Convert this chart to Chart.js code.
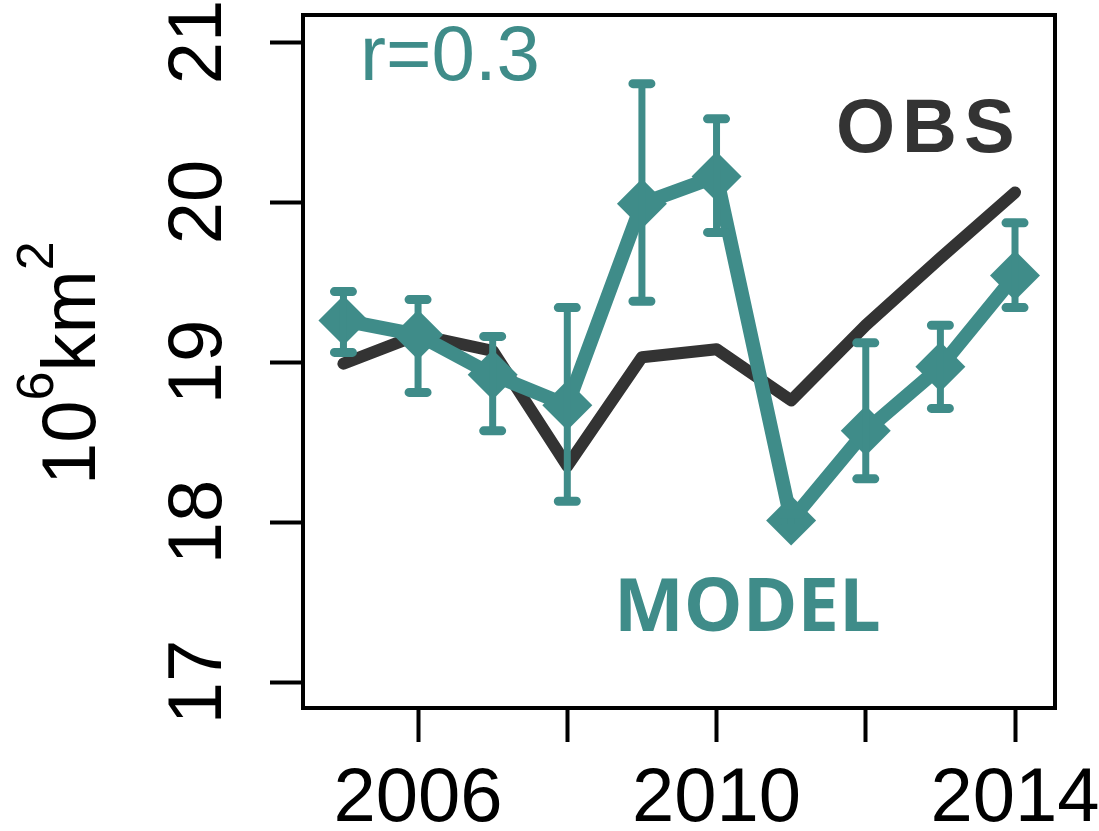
<!DOCTYPE html>
<html>
<head>
<meta charset="utf-8">
<style>
  html, body { margin: 0; padding: 0; background: #ffffff; }
  #wrap { width: 1099px; height: 831px; }
</style>
<script src="https://cdn.jsdelivr.net/npm/chart.js@4.4.1/dist/chart.umd.min.js"></script>
</head>
<body>
<div id="wrap"><canvas id="c" width="1099" height="831"></canvas></div>
<script>
// Yearly sea-ice extent (10^6 km^2): observations vs. model ensemble
const years = [2005, 2006, 2007, 2008, 2009, 2010, 2011, 2012, 2013, 2014];
const obsExtent = [18.99, 19.17, 19.07, 18.35, 19.03, 19.08, 18.76, 19.23, 19.65, 20.06];
const modelExtent = [19.26, 19.17, 18.92, 18.73, 19.99, 20.16, 18.01, 18.57, 18.97, 19.54];
const modelHigh = [19.44, 19.39, 19.16, 19.34, 20.74, 20.52, 18.05, 19.12, 19.23, 19.87];
const modelLow = [19.06, 18.81, 18.57, 18.13, 19.38, 19.81, 17.96, 18.27, 18.71, 19.34];
const xTicks = [2006, 2008, 2010, 2012, 2014];
const xLabelled = [2006, 2010, 2014];
const yTicks = [17, 18, 19, 20, 21];

const TEAL = '#3f8c89';
const DARK = '#333333';
const AXIS_FONT = '"Liberation Sans", Arial, sans-serif';

// Whiskers for the model spread, drawn through the chart's own scales
const errorBars = {
  id: 'errorBars',
  afterDatasetsDraw(chart) {
    const { ctx, scales: { x, y } } = chart;
    ctx.save();
    ctx.strokeStyle = TEAL;
    ctx.lineCap = 'round';
    years.forEach((yr, i) => {
      const px = x.getPixelForValue(yr);
      const top = y.getPixelForValue(modelHigh[i]);
      const bot = y.getPixelForValue(modelLow[i]);
      ctx.lineWidth = 7;
      ctx.beginPath();
      ctx.moveTo(px, top);
      ctx.lineTo(px, bot);
      ctx.stroke();
      ctx.lineWidth = 9;
      ctx.beginPath();
      ctx.moveTo(px - 9, top); ctx.lineTo(px + 9, top);
      ctx.moveTo(px - 9, bot); ctx.lineTo(px + 9, bot);
      ctx.stroke();
    });
    ctx.restore();
  }
};

// Frame, unit title and in-panel labels
const decorations = {
  id: 'decorations',
  afterDraw(chart) {
    const { ctx, chartArea: a } = chart;
    ctx.save();
    ctx.strokeStyle = '#000';
    ctx.lineWidth = 4;
    ctx.strokeRect(a.left, a.top, a.right - a.left, a.bottom - a.top);

    // y-axis unit: 10^6 km^2, rotated
    ctx.translate(95, 485);
    ctx.rotate(-Math.PI / 2);
    ctx.fillStyle = '#000';
    ctx.textBaseline = 'alphabetic';
    ctx.textAlign = 'left';
    let cx = 0;
    ctx.font = '76px ' + AXIS_FONT;
    ctx.fillText('10', cx, 0); cx += ctx.measureText('10').width;
    ctx.font = '52px ' + AXIS_FONT;
    ctx.fillText('6', cx, -42); cx += ctx.measureText('6').width;
    ctx.font = '76px ' + AXIS_FONT;
    ctx.fillText('km', cx, 0); cx += ctx.measureText('km').width;
    ctx.font = '52px ' + AXIS_FONT;
    ctx.fillText('2', cx, -42);
    ctx.restore();

    ctx.save();
    ctx.textBaseline = 'alphabetic';
    ctx.textAlign = 'left';
    ctx.fillStyle = TEAL;
    ctx.font = '78px ' + AXIS_FONT;
    ctx.fillText('r=0.3', 360, 80);

    ctx.fillStyle = DARK;
    ctx.font = 'bold 76px ' + AXIS_FONT;
    ctx.letterSpacing = '7px';
    ctx.fillText('OBS', 836, 152);
    ctx.letterSpacing = '0px';

    ctx.fillStyle = TEAL;
    ctx.font = 'bold 74px "Open Sans", ' + AXIS_FONT;
    ctx.fillText('MODEL', 614, 631);
    ctx.restore();
  }
};

// keep the label overhang from shrinking the plotting box
function noOverhang(scale) {
  scale.paddingLeft = 0;
  scale.paddingRight = 0;
  scale.paddingTop = 0;
  scale.paddingBottom = 0;
}

new Chart(document.getElementById('c'), {
  type: 'line',
  data: {
    datasets: [
      {
        label: 'OBS',
        data: years.map((yr, i) => ({ x: yr, y: obsExtent[i] })),
        borderColor: DARK,
        borderWidth: 12,
        borderJoinStyle: 'round',
        borderCapStyle: 'round',
        pointRadius: 0,
        tension: 0,
        order: 2
      },
      {
        label: 'MODEL',
        data: years.map((yr, i) => ({ x: yr, y: modelExtent[i] })),
        borderColor: TEAL,
        borderWidth: 14,
        borderJoinStyle: 'round',
        pointStyle: 'rectRot',
        pointRadius: 25,
        pointBackgroundColor: TEAL,
        pointBorderWidth: 0,
        tension: 0,
        order: 1
      }
    ]
  },
  options: {
    responsive: false,
    animation: false,
    events: [],
    layout: { autoPadding: false, padding: { left: 0, top: 15, right: 44, bottom: 0 } },
    plugins: { legend: { display: false }, tooltip: { enabled: false } },
    scales: {
      x: {
        type: 'linear',
        min: 2004.458,
        max: 2014.536,
        afterBuildTicks(scale) { scale.ticks = xTicks.map(v => ({ value: v })); },
        afterFit(scale) { scale.height = 123; noOverhang(scale); },
        grid: { drawOnChartArea: false, drawTicks: true, tickLength: 34, tickWidth: 4, tickColor: '#000' },
        border: { display: true, color: '#000', width: 4 },
        ticks: {
          autoSkip: false,
          maxRotation: 0,
          minRotation: 0,
          padding: 12,
          color: '#000',
          font: { family: AXIS_FONT, size: 76 },
          callback: v => (xLabelled.includes(v) ? String(v) : '')
        }
      },
      y: {
        type: 'linear',
        min: 16.8375,
        max: 21.169,
        afterBuildTicks(scale) { scale.ticks = yTicks.map(v => ({ value: v })); },
        afterFit(scale) { scale.width = 303; noOverhang(scale); },
        grid: { drawOnChartArea: false, drawTicks: true, tickLength: 33, tickWidth: 4, tickColor: '#000' },
        border: { display: true, color: '#000', width: 4 },
        ticks: {
          autoSkip: false,
          minRotation: 90,
          maxRotation: 90,
          crossAlign: 'center',
          padding: 28,
          color: '#000',
          font: { family: AXIS_FONT, size: 76 },
          callback: v => String(v)
        }
      }
    }
  },
  plugins: [errorBars, decorations]
});
</script>
</body>
</html>
